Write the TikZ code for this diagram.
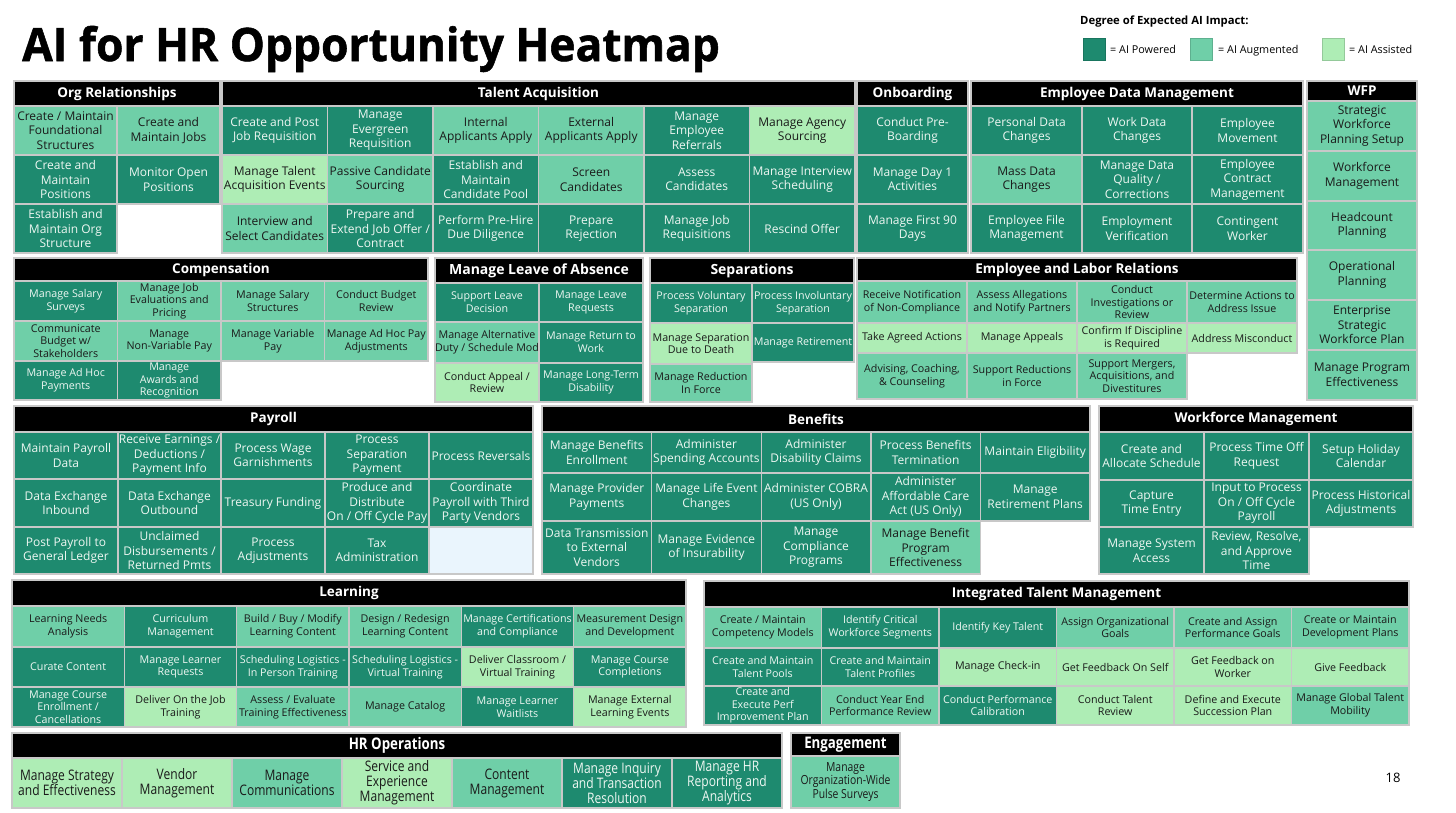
\documentclass[tikz,border=0pt]{standalone}
\usepackage{fontspec}
\setmainfont{Open Sans}
\newfontfamily\condfont[FakeStretch=0.83]{Open Sans}
\newfontfamily\titlefont[BoldFeatures={FakeBold=1.2}]{Open Sans}
\definecolor{pw}{HTML}{1E8A6F}
\definecolor{au}{HTML}{6FCFA8}
\definecolor{asx}{HTML}{AEEDB5}
\definecolor{gridc}{HTML}{C8C8C8}
\definecolor{ink}{HTML}{1A1A1A}
\definecolor{lite}{HTML}{EEF7F2}
\definecolor{emp}{HTML}{EAF5FD}
\tikzset{
 cellbase/.style={draw=gridc, line width=1.4pt, inner sep=0pt, outer sep=0pt, align=center},
 cP/.style={fill=pw, text=lite},
 cM/.style={fill=au, text=ink},
 cA/.style={fill=asx, text=ink},
 cE/.style={fill=emp},
 big/.style={font=\fontsize{12}{14.5}\selectfont},
 sml/.style={font=\fontsize{10.7}{12.7}\selectfont},
 cnd/.style={font=\condfont\fontsize{14.5}{15}\selectfont},
 cnds/.style={font=\condfont\fontsize{12.5}{13.5}\selectfont},
 hdrbox/.style={draw=gridc, line width=1.4pt, fill=black, text=white, inner sep=0pt, outer sep=0pt, font=\bfseries\fontsize{13.5}{16}\selectfont},
 hdrc/.style={font=\condfont\bfseries\fontsize{16}{17}\selectfont},
 legtxt/.style={anchor=base west, inner sep=0pt, font=\fontsize{10.8}{12}\selectfont},
}
\newcommand\cell[7]{\node[cellbase,#6,minimum width={#4-#2},minimum height={#5-#3}] (#1) at ({(#2+#4)/2},{(#3+#5)/2}) {#7};}
\newcommand\hdr[7]{\node[hdrbox,#6,minimum width={#4-#2},minimum height={#5-#3}] (#1) at ({(#2+#4)/2},{(#3+#5)/2}) {#7};}
\begin{document}
\begin{tikzpicture}[x=1pt,y=-1pt]
\useasboundingbox[fill=white] (0,0) rectangle (1456,812);
% title and legend
\node[anchor=base west, inner sep=0pt, font=\titlefont\bfseries\fontsize{46}{54}\selectfont] (title) at (22,61) {\scalebox{0.963}[1]{AI for HR Opportunity Heatmap}};
\node[anchor=base west, inner sep=0pt, font=\bfseries\fontsize{11.3}{12}\selectfont] (legt) at (1080,24) {Degree of Expected AI Impact:};
\node[fill=pw, draw=pw!85!black, line width=0.8pt, minimum size=22pt, inner sep=0pt] (lg1) at (1094,49) {};
\node[legtxt] (lg1t) at (1110,53) {= AI Powered};
\node[fill=au, draw=au!85!black, line width=0.8pt, minimum size=22pt, inner sep=0pt] (lg2) at (1201,49) {};
\node[legtxt] (lg2t) at (1218,53) {= AI Augmented};
\node[fill=asx, draw=asx!85!black, line width=0.8pt, minimum size=22pt, inner sep=0pt] (lg3) at (1333,49) {};
\node[legtxt] (lg3t) at (1349,53) {= AI Assisted};
\node[font=\fontsize{13}{15}\selectfont] (pg) at (1393,778) {18};

% Org Relationships
\hdr{hOrg}{14}{81}{220}{106}{}{Org Relationships}
\cell{o11}{14}{106}{117}{155}{cM,big}{Create / Maintain\\Foundational\\Structures}
\cell{o12}{117}{106}{220}{155}{cM,big}{Create and\\Maintain Jobs}
\cell{o21}{14}{155}{117}{204}{cP,big}{Create and\\Maintain\\Positions}
\cell{o22}{117}{155}{220}{204}{cP,big}{Monitor Open\\Positions}
\cell{o31}{14}{204}{117}{253}{cP,big}{Establish and\\Maintain Org\\Structure}

% Talent Acquisition
\hdr{hTA}{222}{81}{855}{106}{}{Talent Acquisition}
\cell{t11}{222}{106}{327.5}{155}{cP,big}{Create and Post\\Job Requisition}
\cell{t12}{327.5}{106}{433}{155}{cP,big}{Manage\\Evergreen\\Requisition}
\cell{t13}{433}{106}{538.5}{155}{cM,big}{Internal\\Applicants Apply}
\cell{t14}{538.5}{106}{644}{155}{cM,big}{External\\Applicants Apply}
\cell{t15}{644}{106}{749.5}{155}{cP,big}{Manage\\Employee\\Referrals}
\cell{t16}{749.5}{106}{855}{155}{cA,big}{Manage Agency\\Sourcing}
\cell{t21}{222}{155}{327.5}{204}{cA,big}{Manage Talent\\Acquisition Events}
\cell{t22}{327.5}{155}{433}{204}{cM,big}{Passive Candidate\\Sourcing}
\cell{t23}{433}{155}{538.5}{204}{cP,big}{Establish and\\Maintain\\Candidate Pool}
\cell{t24}{538.5}{155}{644}{204}{cM,big}{Screen\\Candidates}
\cell{t25}{644}{155}{749.5}{204}{cP,big}{Assess\\Candidates}
\cell{t26}{749.5}{155}{855}{204}{cP,big}{Manage Interview\\Scheduling}
\cell{t31}{222}{204}{327.5}{253}{cM,big}{Interview and\\Select Candidates}
\cell{t32}{327.5}{204}{433}{253}{cP,big}{Prepare and\\Extend Job Offer /\\Contract}
\cell{t33}{433}{204}{538.5}{253}{cP,big}{Perform Pre-Hire\\Due Diligence}
\cell{t34}{538.5}{204}{644}{253}{cP,big}{Prepare\\Rejection}
\cell{t35}{644}{204}{749.5}{253}{cP,big}{Manage Job\\Requisitions}
\cell{t36}{749.5}{204}{855}{253}{cP,big}{Rescind Offer}

% Onboarding
\hdr{hOn}{857}{81}{968}{106}{}{Onboarding}
\cell{n1}{857}{106}{968}{155}{cP,big}{Conduct Pre-\\Boarding}
\cell{n2}{857}{155}{968}{204}{cP,big}{Manage Day 1\\Activities}
\cell{n3}{857}{204}{968}{253}{cP,big}{Manage First 90\\Days}

% Employee Data Management
\hdr{hEDM}{971}{81}{1303}{106}{}{Employee Data Management}
\cell{e11}{971}{106}{1082}{155}{cP,big}{Personal Data\\Changes}
\cell{e12}{1082}{106}{1192}{155}{cP,big}{Work Data\\Changes}
\cell{e13}{1192}{106}{1303}{155}{cP,big}{Employee\\Movement}
\cell{e21}{971}{155}{1082}{204}{cM,big}{Mass Data\\Changes}
\cell{e22}{1082}{155}{1192}{204}{cP,big}{Manage Data\\Quality /\\Corrections}
\cell{e23}{1192}{155}{1303}{204}{cP,big}{Employee\\Contract\\Management}
\cell{e31}{971}{204}{1082}{253}{cP,big}{Employee File\\Management}
\cell{e32}{1082}{204}{1192}{253}{cP,big}{Employment\\Verification}
\cell{e33}{1192}{204}{1303}{253}{cP,big}{Contingent\\Worker}

% WFP
\hdr{hWFP}{1307}{81}{1417}{101}{}{WFP}
\cell{w1}{1307}{101}{1417}{151}{cM,big}{Strategic\\Workforce\\Planning Setup}
\cell{w2}{1307}{151}{1417}{201}{cM,big}{Workforce\\Management}
\cell{w3}{1307}{201}{1417}{250}{cM,big}{Headcount\\Planning}
\cell{w4}{1307}{250}{1417}{300}{cM,big}{Operational\\Planning}
\cell{w5}{1307}{300}{1417}{350}{cM,big}{Enterprise\\Strategic\\Workforce Plan}
\cell{w6}{1307}{350}{1417}{400}{cM,big}{Manage Program\\Effectiveness}

% Compensation
\hdr{hCo}{14}{258}{428}{281}{}{Compensation}
\cell{c11}{14}{281}{117.5}{321}{cP,sml}{Manage Salary\\Surveys}
\cell{c12}{117.5}{281}{221}{321}{cM,sml}{Manage Job\\Evaluations and\\Pricing}
\cell{c13}{221}{281}{324.5}{321}{cM,sml}{Manage Salary\\Structures}
\cell{c14}{324.5}{281}{428}{321}{cM,sml}{Conduct Budget\\Review}
\cell{c21}{14}{321}{117.5}{361}{cM,sml}{Communicate\\Budget w/\\Stakeholders}
\cell{c22}{117.5}{321}{221}{361}{cM,sml}{Manage\\Non-Variable Pay}
\cell{c23}{221}{321}{324.5}{361}{cM,sml}{Manage Variable\\Pay}
\cell{c24}{324.5}{321}{428}{361}{cM,sml}{Manage Ad Hoc Pay\\Adjustments}
\cell{c31}{14}{361}{117.5}{400}{cP,sml}{Manage Ad Hoc\\Payments}
\cell{c32}{117.5}{361}{221}{400}{cP,sml}{Manage\\Awards and\\Recognition}

% Leave of Absence
\hdr{hLv}{435}{258}{643}{283}{font=\bfseries\fontsize{14}{16}\selectfont}{Manage Leave of Absence}
\cell{l11}{435}{283}{539}{322}{cP,sml}{Support Leave\\Decision}
\cell{l12}{539}{283}{643}{322}{cP,sml}{Manage Leave\\Requests}
\cell{l21}{435}{322}{539}{363}{cM,sml}{Manage Alternative\\Duty / Schedule Mod}
\cell{l22}{539}{322}{643}{363}{cP,sml}{Manage Return to\\Work}
\cell{l31}{435}{363}{539}{402}{cA,sml}{Conduct Appeal /\\Review}
\cell{l32}{539}{363}{643}{402}{cP,sml}{Manage Long-Term\\Disability}

% Separations
\hdr{hSe}{650}{258}{854}{283}{font=\bfseries\fontsize{14}{16}\selectfont}{Separations}
\cell{s11}{650}{283}{752}{323}{cP,sml}{Process Voluntary\\Separation}
\cell{s12}{752}{283}{854}{323}{cP,sml}{Process Involuntary\\Separation}
\cell{s21}{650}{323}{752}{364}{cA,sml}{Manage Separation\\Due to Death}
\cell{s22}{752}{323}{854}{362}{cP,sml}{Manage Retirement}
\cell{s31}{650}{364}{752}{402}{cM,sml}{Manage Reduction\\In Force}

% Employee and Labor Relations
\hdr{hELR}{857}{258}{1297}{281}{}{Employee and Labor Relations}
\cell{r11}{857}{281}{967}{323}{cM,sml}{Receive Notification\\of Non-Compliance}
\cell{r12}{967}{281}{1077}{323}{cM,sml}{Assess Allegations\\and Notify Partners}
\cell{r13}{1077}{281}{1187}{323}{cM,sml}{Conduct\\Investigations or\\Review}
\cell{r14}{1187}{281}{1297}{323}{cM,sml}{Determine Actions to\\Address Issue}
\cell{r21}{857}{323}{967}{353}{cA,sml}{Take Agreed Actions}
\cell{r22}{967}{323}{1077}{353}{cA,sml}{Manage Appeals}
\cell{r23}{1077}{323}{1187}{353}{cA,sml}{Confirm If Discipline\\is Required}
\cell{r24}{1187}{323}{1297}{353}{cA,sml}{Address Misconduct}
\cell{r31}{857}{353}{967}{399}{cM,sml}{Advising, Coaching,\\\& Counseling}
\cell{r32}{967}{353}{1077}{399}{cM,sml}{Support Reductions\\in Force}
\cell{r33}{1077}{353}{1187}{399}{cM,sml}{Support Mergers,\\Acquisitions, and\\Divestitures}

% Payroll
\hdr{hPay}{14}{406}{533}{432}{}{Payroll}
\cell{p11}{14}{432}{118}{479}{cP,big}{Maintain Payroll\\Data}
\cell{p12}{118}{432}{221}{479}{cP,big}{Receive Earnings /\\Deductions /\\Payment Info}
\cell{p13}{221}{432}{325}{479}{cP,big}{Process Wage\\Garnishments}
\cell{p14}{325}{432}{429}{479}{cP,big}{Process\\Separation\\Payment}
\cell{p15}{429}{432}{533}{479}{cP,big}{Process Reversals}
\cell{p21}{14}{479}{118}{527}{cP,big}{Data Exchange\\Inbound}
\cell{p22}{118}{479}{221}{527}{cP,big}{Data Exchange\\Outbound}
\cell{p23}{221}{479}{325}{527}{cP,big}{Treasury Funding}
\cell{p24}{325}{479}{429}{527}{cP,big}{Produce and\\Distribute\\On / Off Cycle Pay}
\cell{p25}{429}{479}{533}{527}{cP,big}{Coordinate\\Payroll with Third\\Party Vendors}
\cell{p31}{14}{527}{118}{574}{cP,big}{Post Payroll to\\General Ledger}
\cell{p32}{118}{527}{221}{574}{cP,big}{Unclaimed\\Disbursements /\\Returned Pmts}
\cell{p33}{221}{527}{325}{574}{cP,big}{Process\\Adjustments}
\cell{p34}{325}{527}{429}{574}{cP,big}{Tax\\Administration}
\cell{p35}{429}{527}{533}{574}{cE}{}

% Benefits
\hdr{hBen}{542}{406}{1090}{432}{}{Benefits}
\cell{b11}{542}{432}{651.6}{473}{cP,big}{Manage Benefits\\Enrollment}
\cell{b12}{651.6}{432}{761.2}{473}{cP,big}{Administer\\Spending Accounts}
\cell{b13}{761.2}{432}{870.8}{473}{cP,big}{Administer\\Disability Claims}
\cell{b14}{870.8}{432}{980.4}{473}{cP,big}{Process Benefits\\Termination}
\cell{b15}{980.4}{432}{1090}{473}{cP,big}{Maintain Eligibility}
\cell{b21}{542}{473}{651.6}{521}{cP,big}{Manage Provider\\Payments}
\cell{b22}{651.6}{473}{761.2}{521}{cP,big}{Manage Life Event\\Changes}
\cell{b23}{761.2}{473}{870.8}{521}{cP,big}{Administer COBRA\\(US Only)}
\cell{b24}{870.8}{473}{980.4}{521}{cP,big}{Administer\\Affordable Care\\Act (US Only)}
\cell{b25}{980.4}{473}{1090}{521}{cP,big}{Manage\\Retirement Plans}
\cell{b31}{542}{521}{651.6}{574}{cP,big}{Data Transmission\\to External\\Vendors}
\cell{b32}{651.6}{521}{761.2}{574}{cP,big}{Manage Evidence\\of Insurability}
\cell{b33}{761.2}{521}{870.8}{574}{cP,big}{Manage\\Compliance\\Programs}
\cell{b34}{870.8}{521}{980.4}{574}{cM,big}{Manage Benefit\\Program\\Effectiveness}

% Workforce Management
\hdr{hWM}{1099}{406}{1413}{432}{}{Workforce Management}
\cell{m11}{1099}{432}{1204}{480}{cP,big}{Create and\\Allocate Schedule}
\cell{m12}{1204}{432}{1309}{480}{cP,big}{Process Time Off\\Request}
\cell{m13}{1309}{432}{1413}{480}{cP,big}{Setup Holiday\\Calendar}
\cell{m21}{1099}{480}{1204}{527}{cP,big}{Capture\\Time Entry}
\cell{m22}{1204}{480}{1309}{527}{cP,big}{Input to Process\\On / Off Cycle\\Payroll}
\cell{m23}{1309}{480}{1413}{527}{cP,big}{Process Historical\\Adjustments}
\cell{m31}{1099}{527}{1204}{574}{cP,big}{Manage System\\Access}
\cell{m32}{1204}{527}{1309}{574}{cP,big}{Review, Resolve,\\and Approve\\Time}

% Learning
\hdr{hLe}{12}{580}{686}{606}{}{Learning}
\cell{g11}{12}{606}{124.3}{647}{cM,sml}{Learning Needs\\Analysis}
\cell{g12}{124.3}{606}{236.7}{647}{cP,sml}{Curriculum\\Management}
\cell{g13}{236.7}{606}{349}{647}{cM,sml}{Build / Buy / Modify\\Learning Content}
\cell{g14}{349}{606}{461.3}{647}{cM,sml}{Design / Redesign\\Learning Content}
\cell{g15}{461.3}{606}{573.7}{647}{cP,sml}{Manage Certifications\\and Compliance}
\cell{g16}{573.7}{606}{686}{647}{cM,sml}{Measurement Design\\and Development}
\cell{g21}{12}{647}{124.3}{687}{cP,sml}{Curate Content}
\cell{g22}{124.3}{647}{236.7}{687}{cP,sml}{Manage Learner\\Requests}
\cell{g23}{236.7}{647}{349}{687}{cP,sml}{Scheduling Logistics -\\In Person Training}
\cell{g24}{349}{647}{461.3}{687}{cP,sml}{Scheduling Logistics -\\Virtual Training}
\cell{g25}{461.3}{647}{573.7}{687}{cA,sml}{Deliver Classroom /\\Virtual Training}
\cell{g26}{573.7}{647}{686}{687}{cP,sml}{Manage Course\\Completions}
\cell{g31}{12}{687}{124.3}{727}{cP,sml}{Manage Course\\Enrollment /\\Cancellations}
\cell{g32}{124.3}{687}{236.7}{727}{cA,sml}{Deliver On the Job\\Training}
\cell{g33}{236.7}{687}{349}{727}{cM,sml}{Assess / Evaluate\\Training Effectiveness}
\cell{g34}{349}{687}{461.3}{727}{cM,sml}{Manage Catalog}
\cell{g35}{461.3}{687}{573.7}{727}{cP,sml}{Manage Learner\\Waitlists}
\cell{g36}{573.7}{687}{686}{727}{cA,sml}{Manage External\\Learning Events}

% Integrated Talent Management
\hdr{hITM}{704}{581}{1409}{607}{}{Integrated Talent Management}
\cell{i11}{704}{607}{821.5}{648}{cM,sml}{Create / Maintain\\Competency Models}
\cell{i12}{821.5}{607}{939}{648}{cP,sml}{Identify Critical\\Workforce Segments}
\cell{i13}{939}{607}{1056.5}{648}{cP,sml}{Identify Key Talent}
\cell{i14}{1056.5}{607}{1174}{648}{cM,sml}{Assign Organizational\\Goals}
\cell{i15}{1174}{607}{1291.5}{648}{cM,sml}{Create and Assign\\Performance Goals}
\cell{i16}{1291.5}{607}{1409}{648}{cM,sml}{Create or Maintain\\Development Plans}
\cell{i21}{704}{648}{821.5}{686}{cP,sml}{Create and Maintain\\Talent Pools}
\cell{i22}{821.5}{648}{939}{686}{cP,sml}{Create and Maintain\\Talent Profiles}
\cell{i23}{939}{648}{1056.5}{686}{cA,sml}{Manage Check-in}
\cell{i24}{1056.5}{648}{1174}{686}{cA,sml}{Get Feedback On Self}
\cell{i25}{1174}{648}{1291.5}{686}{cA,sml}{Get Feedback on\\Worker}
\cell{i26}{1291.5}{648}{1409}{686}{cA,sml}{Give Feedback}
\cell{i31}{704}{686}{821.5}{725}{cP,sml}{Create and\\Execute Perf\\Improvement Plan}
\cell{i32}{821.5}{686}{939}{725}{cM,sml}{Conduct Year End\\Performance Review}
\cell{i33}{939}{686}{1056.5}{725}{cP,sml}{Conduct Performance\\Calibration}
\cell{i34}{1056.5}{686}{1174}{725}{cA,sml}{Conduct Talent\\Review}
\cell{i35}{1174}{686}{1291.5}{725}{cA,sml}{Define and Execute\\Succession Plan}
\cell{i36}{1291.5}{686}{1409}{725}{cM,sml}{Manage Global Talent\\Mobility}

% HR Operations
\hdr{hHR}{12}{733}{782}{758}{hdrc}{HR Operations}
\cell{h1}{12}{758}{122}{808}{cA,cnd}{Manage Strategy\\and Effectiveness}
\cell{h2}{122}{758}{232}{808}{cA,cnd}{Vendor\\Management}
\cell{h3}{232}{758}{342}{808}{cM,cnd}{Manage\\Communications}
\cell{h4}{342}{758}{452}{808}{cA,cnd}{Service and\\Experience\\Management}
\cell{h5}{452}{758}{562}{808}{cM,cnd}{Content\\Management}
\cell{h6}{562}{758}{672}{808}{cP,cnd}{Manage Inquiry\\and Transaction\\Resolution}
\cell{h7}{672}{758}{782}{808}{cP,cnd}{Manage HR\\Reporting and\\Analytics}

% Engagement
\hdr{hEn}{791}{733}{900}{756}{hdrc}{Engagement}
\cell{en1}{791}{756}{900}{808}{cM,cnds}{Manage\\Organization-Wide\\Pulse Surveys}
\end{tikzpicture}
\end{document}
